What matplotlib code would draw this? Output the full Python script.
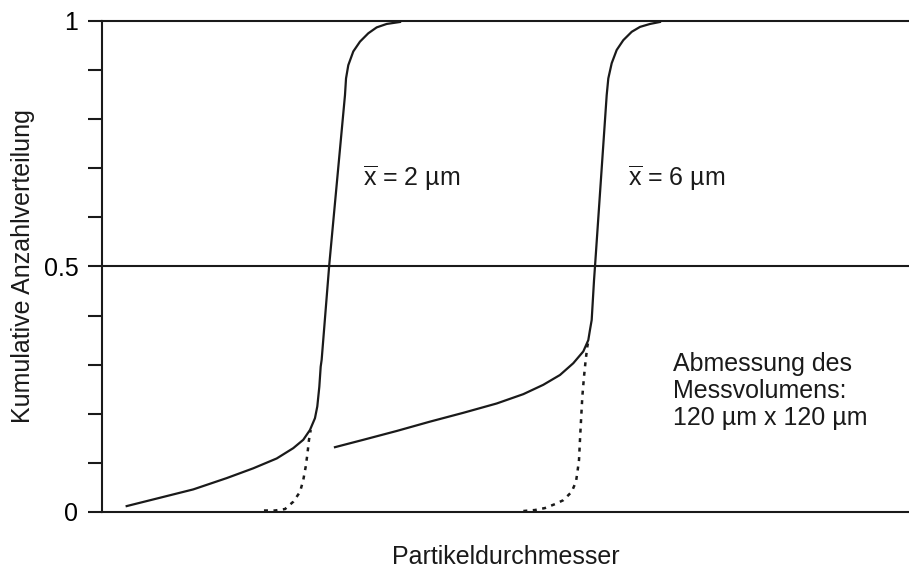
import matplotlib
matplotlib.use("Agg")
import matplotlib.pyplot as plt
from matplotlib.ticker import MultipleLocator

plt.rcParams['font.family'] = ['Liberation Sans', 'DejaVu Sans']
plt.rcParams['mathtext.fontset'] = 'custom'
plt.rcParams['mathtext.rm'] = 'Liberation Sans'

# x in arbitrary units (axis has no scale), y = cumulative fraction
# measured distribution, mean 2 um
x_m2 = [3.06, 7.19, 11.31, 15.45, 18.75, 21.65, 23.70, 24.94, 25.77, 26.39, 26.68, 26.93,
        27.10, 27.22, 28.17, 30.11, 30.24, 30.52, 31.14, 31.97, 33.0, 34.04, 35.28, 36.93]
y_m2 = [0.012, 0.029, 0.046, 0.069, 0.089, 0.109, 0.130, 0.147, 0.167, 0.191, 0.215, 0.255,
        0.296, 0.310, 0.505, 0.849, 0.883, 0.910, 0.938, 0.958, 0.975, 0.987, 0.994, 0.998]
# true distribution tail, mean 2 um (dotted)
x_t2 = [20.07, 21.44, 22.68, 23.71, 24.54, 24.94, 25.24, 25.44, 25.65, 25.86]
y_t2 = [0.003, 0.003, 0.006, 0.021, 0.041, 0.065, 0.092, 0.116, 0.147, 0.167]

# measured distribution, mean 6 um
x_m6 = [28.87, 32.38, 36.52, 40.64, 44.77, 48.91, 52.21, 54.68, 56.75, 58.40, 59.64, 60.26,
        60.47, 60.68, 60.97, 61.09, 62.54, 62.74, 63.16, 63.78, 64.60, 65.64, 66.67, 67.91, 69.14]
y_m6 = [0.132, 0.147, 0.165, 0.184, 0.202, 0.221, 0.240, 0.259, 0.279, 0.303, 0.327, 0.350,
        0.371, 0.391, 0.472, 0.5, 0.849, 0.883, 0.914, 0.941, 0.961, 0.978, 0.988, 0.994, 0.998]
# true distribution tail, mean 6 um (dotted)
x_t6 = [52.21, 53.66, 54.89, 56.13, 57.16, 58.20, 58.74, 58.95, 59.11, 59.23, 59.36, 59.52,
        59.73, 59.94, 60.14, 60.26]
y_t6 = [0.002, 0.004, 0.008, 0.016, 0.024, 0.041, 0.062, 0.086, 0.106, 0.147, 0.187, 0.235,
        0.276, 0.310, 0.337, 0.347]

col = '#1a1a1a'
fs = 18

fig = plt.figure(figsize=(9.09, 5.69), dpi=100)
ax = fig.add_axes([0.1122, 0.1002, 0.8878, 0.8629])

ax.plot(x_m2, y_m2, color=col, lw=1.6)
ax.plot(x_t2, y_t2, color=col, lw=1.8, linestyle=(0, (1.6, 2.2)))
ax.plot(x_m6, y_m6, color=col, lw=1.6)
ax.plot(x_t6, y_t6, color=col, lw=1.8, linestyle=(0, (1.6, 2.2)))

ax.axhline(0.5, color=col, lw=1.5)

ax.set_xlim(0, 100)
ax.set_ylim(0, 1)
ax.spines['right'].set_visible(False)
for s in ['left', 'bottom', 'top']:
    ax.spines[s].set_color(col)
    ax.spines[s].set_linewidth(1.5)

ax.set_xticks([])
ax.set_yticks([0, 0.5, 1])
ax.set_yticklabels(['0', '0.5', '1'])
ax.yaxis.set_minor_locator(MultipleLocator(0.1))
ax.tick_params(axis='y', which='both', direction='out', length=10, width=1.5,
               color=col, labelsize=fs, pad=7)

ax.set_xlabel('Partikeldurchmesser', fontsize=fs, labelpad=24, color=col)
ax.set_ylabel('Kumulative Anzahlverteilung', fontsize=fs, labelpad=6, color=col)

ax.text(32.3, 0.68, r'$\overline{\mathrm{x}}$ = 2 µm', fontsize=fs, color=col, va='center')
ax.text(65.2, 0.68, r'$\overline{\mathrm{x}}$ = 6 µm', fontsize=fs, color=col, va='center')
ax.text(70.8, 0.246, 'Abmessung des\nMessvolumens:\n120 µm x 120 µm', fontsize=fs,
        color=col, va='center', linespacing=1.15)

fig.savefig('out.png', dpi=100)
